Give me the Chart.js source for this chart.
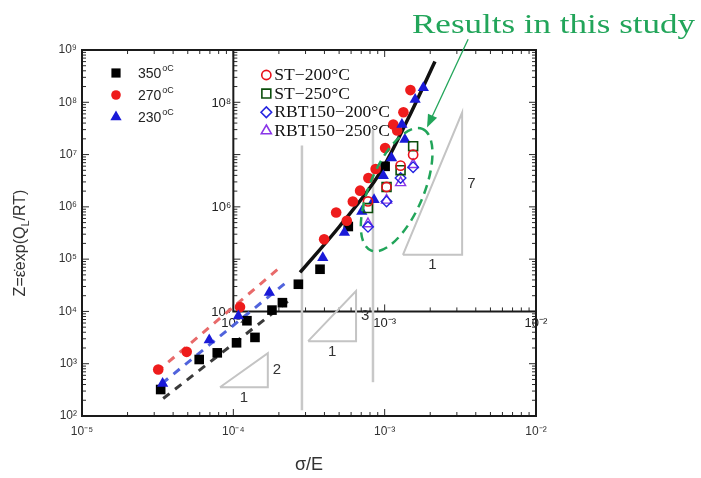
<!DOCTYPE html>
<html><head><meta charset="utf-8">
<script src="https://cdn.jsdelivr.net/npm/chart.js@4.4.1/dist/chart.umd.min.js"></script>
<style>html,body{margin:0;padding:0;background:#fff;}canvas{display:block}</style>
</head><body>
<canvas id="c" width="701" height="478"></canvas>
<script>
// ---------- axis ranges & tick labels ----------
const X_MIN = 1e-5, X_MAX = 1e-2, Y_MIN = 1e2, Y_MAX = 1e9;
const xDecades = [1e-5, 1e-4, 1e-3, 1e-2];
const yDecades = [1e2, 1e3, 1e4, 1e5, 1e6, 1e7, 1e8, 1e9];
const insetXRange = [1e-4, 1e-2];
const insetYRange = [1e4, 1e9];
const insetXLabels = [1e-4, 1e-3, 1e-2];
const insetYLabels = [1e4, 1e6, 1e8];
const xTitle = 'σ/E';
const yTitleParts = ['Z=ε\u0307exp(Q', 'L', '/RT)'];
const chartTitle = 'Results in this study';

// ---------- literature data (filled symbols) ----------
const outerLegend = ['350', '270', '230'];
const black350X = [3.31e-5, 5.95e-5, 7.83e-5, 1.05e-4, 1.23e-4, 1.39e-4, 1.80e-4, 2.11e-4, 2.69e-4, 3.74e-4, 5.75e-4, 1.007e-3];
const black350Y = [321, 1205, 1614, 2512, 6637, 3186, 1.06e4, 1.47e4, 3.31e4, 6.41e4, 4.21e5, 5.96e6];
const red270X = [3.19e-5, 4.92e-5, 1.107e-4, 3.98e-4, 4.78e-4, 5.62e-4, 6.16e-4, 6.88e-4, 7.80e-4, 8.71e-4, 1.007e-3, 1.14e-3, 1.21e-3, 1.33e-3, 1.48e-3];
const red270Y = [776, 1687, 1.21e4, 2.39e5, 7.82e5, 5.41e5, 1.27e6, 2.04e6, 3.56e6, 5.31e6, 1.33e7, 3.75e7, 2.88e7, 6.46e7, 1.71e8];
const blue230X = [3.41e-5, 6.93e-5, 1.08e-4, 1.73e-4, 3.90e-4, 5.42e-4, 7.06e-4, 8.51e-4, 9.80e-4, 1.11e-3, 1.30e-3, 1.36e-3, 1.59e-3, 1.80e-3];
const blue230Y = [418, 2830, 8170, 2.29e4, 1.06e5, 3.23e5, 8.17e5, 1.37e6, 3.94e6, 8.63e6, 3.75e7, 1.94e7, 1.13e8, 1.90e8];

// ---------- this study (open symbols) ----------
const studyLegend = ['ST\u2212200°C', 'ST\u2212250°C', 'RBT150\u2212200°C', 'RBT150\u2212250°C'];
const studyX = [7.76e-4, 1.029e-3, 1.274e-3, 1.542e-3];
const st200Y = [1.27e6, 2.40e6, 6.14e6, 9.97e6];
const st250Y = [9.48e5, 2.40e6, 5.04e6, 1.45e7];
const rbt200Y = [4.15e5, 1.27e6, 3.56e6, 5.74e6];
const rbt250Y = [4.74e5, 1.34e6, 2.90e6, 6.41e6];

// ---------- fit lines ----------
const curveX = [2.76e-4, 5.07e-4, 9.33e-4, 1.43e-3, 2.15e-3];
const curveY = [5.57e4, 4.35e5, 4.51e6, 4.89e7, 6.05e8];
const redDashX = [3.12e-5, 2.04e-4], redDashY = [698, 7.01e4];
const blueDashX = [3.37e-5, 2.31e-4], blueDashY = [418, 3.88e4];
const blackDashX = [3.44e-5, 2.43e-4], blackDashY = [216, 1.78e4];

// ---------- guides ----------
const guide1X = 2.84e-4, guide1Y = [129, 1.49e7];
const guide2X = 8.37e-4, guide2Y = [443, 3.0e7];
const tri2X = [8.16e-5, 1.69e-4], tri2Y = [355, 1592];
const tri3X = [3.12e-4, 6.47e-4], tri3Y = [2704, 2.46e4];
const tri7X = [1.32e-3, 3.25e-3], tri7Y = [1.21e5, 6.37e7];
const slopeTexts = ['2', '3', '7'];
const ellipseCenter = [1.2e-3, 2.13e6];
const arrowTail = [3.56e-3, 1.6e9], arrowHead = [1.905e-3, 3.29e7];

// ---------- helpers ----------
const SUP = {'0':'⁰','1':'¹','2':'²','3':'³','4':'⁴','5':'⁵','6':'⁶','7':'⁷','8':'⁸','9':'⁹','-':'⁻'};
function pow10Label(v) {
  const e = Math.round(Math.log10(v));
  return '10' + String(e).split('').map(c => SUP[c]).join('');
}
function pts(xs, ys) { return xs.map((x, i) => ({x, y: ys[i]})); }
function logTicks(lo, hi) {
  const out = [];
  for (let e = Math.round(Math.log10(lo)); e <= Math.round(Math.log10(hi)); e++) {
    for (let m = 1; m <= 9; m++) {
      const v = m * Math.pow(10, e);
      if (v >= lo * 0.999 && v <= hi * 1.001) out.push([v, m === 1]);
    }
  }
  return out;
}
function triPts(xs, ys) { return [{x: xs[0], y: ys[0]}, {x: xs[1], y: ys[1]}, {x: xs[1], y: ys[0]}, {x: xs[0], y: ys[0]}]; }
const SANS = '"Liberation Sans", Arial, sans-serif';
const SERIF = '"Liberation Serif", "Times New Roman", serif';

function marker(ctx, style, x, y, r, fill, stroke, lw) {
  ctx.beginPath();
  if (style === 'rect') { const s = r * Math.SQRT1_2; ctx.rect(x - s, y - s, 2 * s, 2 * s); }
  else if (style === 'circle') { ctx.arc(x, y, r, 0, Math.PI * 2); }
  else if (style === 'triangle') {
    for (let k = 0; k < 3; k++) { const a = k * 2 * Math.PI / 3; const px = x + Math.sin(a) * r, py = y - Math.cos(a) * r; k ? ctx.lineTo(px, py) : ctx.moveTo(px, py); }
    ctx.closePath();
  } else if (style === 'rectRot') { ctx.moveTo(x - r, y); ctx.lineTo(x, y - r); ctx.lineTo(x + r, y); ctx.lineTo(x, y + r); ctx.closePath(); }
  if (fill) { ctx.fillStyle = fill; ctx.fill(); }
  if (stroke) { ctx.strokeStyle = stroke; ctx.lineWidth = lw; ctx.stroke(); }
}

const decor = {
  id: 'decor',
  beforeDatasetsDraw(chart) {
    const {ctx, chartArea: a} = chart;
    const sx = chart.scales.x, sy = chart.scales.y;
    const px = v => sx.getPixelForValue(v), py = v => sy.getPixelForValue(v);
    const ix = px(insetXRange[0]), iy = py(insetYRange[0]);
    ctx.save();
    ctx.strokeStyle = '#2a2a2a'; ctx.lineWidth = 1;
    ctx.beginPath();
    logTicks(X_MIN, X_MAX).forEach(([v, maj]) => { const L = maj ? 7 : 4, p = px(v);
      ctx.moveTo(p, a.bottom); ctx.lineTo(p, a.bottom - L); ctx.moveTo(p, a.top); ctx.lineTo(p, a.top + L); });
    logTicks(Y_MIN, Y_MAX).forEach(([v, maj]) => { const L = maj ? 7 : 4, p = py(v);
      ctx.moveTo(a.left, p); ctx.lineTo(a.left + L, p); ctx.moveTo(a.right, p); ctx.lineTo(a.right - L, p); });
    logTicks(insetXRange[0], insetXRange[1]).forEach(([v, maj]) => { const L = maj ? 7 : 4, p = px(v);
      ctx.moveTo(p, iy); ctx.lineTo(p, iy - L); });
    logTicks(insetYRange[0], insetYRange[1]).forEach(([v, maj]) => { const L = maj ? 7 : 4, p = py(v);
      ctx.moveTo(ix, p); ctx.lineTo(ix + L, p); });
    ctx.stroke();
    ctx.lineWidth = 2; ctx.strokeStyle = '#1a1a1a';
    ctx.strokeRect(a.left, a.top, a.right - a.left, a.bottom - a.top);
    ctx.beginPath(); ctx.moveTo(ix, a.top); ctx.lineTo(ix, iy); ctx.lineTo(a.right, iy); ctx.stroke();
    ctx.fillStyle = '#222'; ctx.font = '13px ' + SANS;
    ctx.textAlign = 'right'; ctx.textBaseline = 'middle';
    insetYLabels.forEach(v => ctx.fillText(pow10Label(v), ix - 2, py(v) + 1));
    ctx.textAlign = 'center'; ctx.textBaseline = 'top';
    insetXLabels.forEach(v => ctx.fillText(pow10Label(v), px(v), iy + 5));
    ctx.restore();
  },
  afterDatasetsDraw(chart) {
    const {ctx, chartArea: a} = chart;
    const sx = chart.scales.x, sy = chart.scales.y;
    const px = v => sx.getPixelForValue(v), py = v => sy.getPixelForValue(v);
    const ix = px(insetXRange[0]);
    ctx.save();
    // slope labels
    ctx.fillStyle = '#333'; ctx.font = '15px ' + SANS;
    [[tri2X, tri2Y], [tri3X, tri3Y], [tri7X, tri7Y]].forEach(([xs, ys], i) => {
      const x1 = px(xs[1]), y0 = py(ys[0]), y1 = py(ys[1]), x0 = px(xs[0]);
      ctx.textAlign = 'left'; ctx.textBaseline = 'middle';
      ctx.fillText(slopeTexts[i], x1 + 5, (y0 + y1) / 2);
      ctx.textAlign = 'center'; ctx.textBaseline = 'top';
      ctx.fillText('1', (x0 + x1) / 2, y0 + 3);
    });
    // dashed ellipse
    ctx.strokeStyle = '#22a55a'; ctx.lineWidth = 2.5; ctx.setLineDash([9, 6]);
    ctx.beginPath();
    ctx.ellipse(px(ellipseCenter[0]), py(ellipseCenter[1]), 66, 27, -67 * Math.PI / 180, 0, Math.PI * 2);
    ctx.stroke();
    ctx.setLineDash([]);
    // arrow
    const tx = px(arrowTail[0]), ty = py(arrowTail[1]), hx = px(arrowHead[0]), hy = py(arrowHead[1]);
    const ang = Math.atan2(hy - ty, hx - tx);
    ctx.strokeStyle = '#22a55a'; ctx.fillStyle = '#22a55a'; ctx.lineWidth = 1.3;
    ctx.beginPath(); ctx.moveTo(tx, ty); ctx.lineTo(hx - Math.cos(ang) * 10, hy - Math.sin(ang) * 10); ctx.stroke();
    ctx.beginPath(); ctx.moveTo(hx, hy);
    ctx.lineTo(hx - Math.cos(ang) * 13 + Math.sin(ang) * 5, hy - Math.sin(ang) * 13 - Math.cos(ang) * 5);
    ctx.lineTo(hx - Math.cos(ang) * 13 - Math.sin(ang) * 5, hy - Math.sin(ang) * 13 + Math.cos(ang) * 5);
    ctx.closePath(); ctx.fill();
    // title
    ctx.font = '28px ' + SERIF; ctx.fillStyle = '#22a55a'; ctx.textAlign = 'left'; ctx.textBaseline = 'alphabetic';
    const tw = ctx.measureText(chartTitle).width;
    ctx.save(); ctx.translate(412, 33); ctx.scale(283 / tw, 1); ctx.fillText(chartTitle, 0, 0); ctx.restore();
    // outer legend
    const lgStyles = [['rect', 6.5, '#000'], ['circle', 4.8, '#ee1c1c'], ['triangle', 6.5, '#1a1ad8']];
    outerLegend.forEach((t, i) => {
      const y = a.top + 23 + i * 22, x = a.left + 34;
      marker(ctx, lgStyles[i][0], x, y, lgStyles[i][1], lgStyles[i][2], null, 0);
      ctx.fillStyle = '#222'; ctx.font = '14px ' + SANS; ctx.textAlign = 'left'; ctx.textBaseline = 'middle';
      ctx.fillText(t, x + 22, y + 1);
      const w = ctx.measureText(t).width;
      ctx.font = '9px ' + SANS; ctx.fillText('oC', x + 22 + w + 1, y - 4);
    });
    // inset legend
    const stStyles = [['circle', 4.6, '#e8101a'], ['rect', 6.3, '#0b4d0b'], ['rectRot', 5.3, '#2525e0'], ['triangle', 5.8, '#8a35e8']];
    studyLegend.forEach((t, i) => {
      const y = a.top + 25 + i * 18.6, x = ix + 33;
      marker(ctx, stStyles[i][0], x, y, stStyles[i][1], null, stStyles[i][2], 1.6);
      ctx.fillStyle = '#111'; ctx.font = '16px ' + SERIF; ctx.textAlign = 'left'; ctx.textBaseline = 'middle';
      ctx.save(); ctx.translate(x + 8, y + 1); ctx.scale(1.1, 1); ctx.fillText(t, 0, 0); ctx.restore();
    });
    // y-axis title
    ctx.save(); ctx.translate(a.left - 61, (a.top + a.bottom) / 2 + 10); ctx.rotate(-Math.PI / 2);
    ctx.fillStyle = '#333';
    const parts = [[yTitleParts[0], '16px ' + SANS, 0], [yTitleParts[1], '11px ' + SANS, 5], [yTitleParts[2], '16px ' + SANS, 0]];
    let total = 0; parts.forEach(p => { ctx.font = p[1]; total += ctx.measureText(p[0]).width; });
    let xx = -total / 2; ctx.textAlign = 'left'; ctx.textBaseline = 'middle';
    parts.forEach(p => { ctx.font = p[1]; ctx.fillText(p[0], xx, p[2]); xx += ctx.measureText(p[0]).width; });
    ctx.restore();
    ctx.restore();
  }
};

const lineDs = (data, color, width, dash, order) => ({type: 'scatter', data, showLine: true, borderColor: color, borderWidth: width, borderDash: dash, pointRadius: 0, fill: false, order});

const datasets = [
  {label: studyLegend[0], data: pts(studyX, st200Y), pointStyle: 'circle', pointRadius: 4.6, borderColor: '#e8101a', backgroundColor: 'rgba(0,0,0,0)', borderWidth: 1.6, order: 0},
  {label: studyLegend[1], data: pts(studyX, st250Y), pointStyle: 'rect', pointRadius: 6.3, borderColor: '#0b4d0b', backgroundColor: 'rgba(0,0,0,0)', borderWidth: 1.6, order: 0},
  {label: studyLegend[2], data: pts(studyX, rbt200Y), pointStyle: 'rectRot', pointRadius: 5.3, borderColor: '#2525e0', backgroundColor: 'rgba(0,0,0,0)', borderWidth: 1.4, order: 0},
  {label: studyLegend[3], data: pts(studyX, rbt250Y), pointStyle: 'triangle', pointRadius: 5.8, borderColor: '#8a35e8', backgroundColor: 'rgba(0,0,0,0)', borderWidth: 1.4, order: 0},
  {label: '230', data: pts(blue230X, blue230Y), pointStyle: 'triangle', pointRadius: 6.5, backgroundColor: '#1a1ad8', borderColor: '#1a1ad8', borderWidth: 0, order: 1},
  {label: '270', data: pts(red270X, red270Y), pointStyle: 'circle', pointRadius: 5.3, backgroundColor: '#ee1c1c', borderColor: '#ee1c1c', borderWidth: 0, order: 1},
  {label: '350', data: pts(black350X, black350Y), pointStyle: 'rect', pointRadius: 6.8, backgroundColor: '#000', borderColor: '#000', borderWidth: 0, order: 1},
  Object.assign(lineDs(pts(curveX, curveY), '#111', 3.5, [], 2), {cubicInterpolationMode: 'monotone'}),
  lineDs(pts(redDashX, redDashY), '#e86a6a', 3, [8, 7], 3),
  lineDs(pts(blueDashX, blueDashY), '#5063dc', 3, [8, 7], 3),
  lineDs(pts(blackDashX, blackDashY), '#3a3a3a', 3, [8, 7], 3),
  lineDs(pts([guide1X, guide1X], guide1Y), '#c8c8c8', 2.5, [], 4),
  lineDs(pts([guide2X, guide2X], guide2Y), '#c8c8c8', 2.5, [], 4),
  lineDs(triPts(tri2X, tri2Y), '#c4c4c4', 2, [], 4),
  lineDs(triPts(tri3X, tri3Y), '#c4c4c4', 2, [], 4),
  lineDs(triPts(tri7X, tri7Y), '#c4c4c4', 2, [], 4)
];

new Chart(document.getElementById('c'), {
  type: 'scatter',
  data: {datasets},
  options: {
    responsive: false, animation: false, devicePixelRatio: 1,
    layout: {padding: {left: 0, top: 50, right: 165, bottom: 0}},
    plugins: {legend: {display: false}, tooltip: {enabled: false}},
    scales: {
      x: {
        type: 'logarithmic', min: X_MIN, max: X_MAX, position: 'bottom',
        afterBuildTicks: s => { s.ticks = xDecades.map(v => ({value: v})); },
        afterFit: s => { s.height = 62; },
        grid: {display: false, drawTicks: false}, border: {display: false},
        ticks: {callback: v => pow10Label(v), font: {family: SANS, size: 12}, color: '#333', padding: 8, maxRotation: 0, autoSkip: false},
        title: {display: true, text: xTitle, font: {family: SANS, size: 18}, color: '#333', padding: {top: 0, bottom: 2}}
      },
      y: {
        type: 'logarithmic', min: Y_MIN, max: Y_MAX, position: 'left',
        afterBuildTicks: s => { s.ticks = yDecades.map(v => ({value: v})); },
        afterFit: s => { s.width = 82; },
        grid: {display: false, drawTicks: false}, border: {display: false},
        ticks: {callback: v => pow10Label(v), font: {family: SANS, size: 12}, color: '#333', padding: 5, autoSkip: false}
      }
    }
  },
  plugins: [decor]
});
</script></body></html>
